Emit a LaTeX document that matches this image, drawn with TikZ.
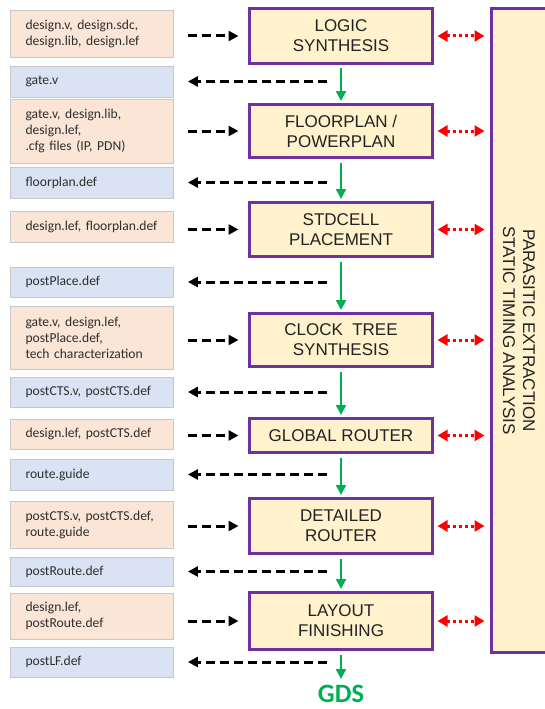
\documentclass[tikz,border=0pt]{standalone}
\usepackage{fontspec}
\setmainfont{Liberation Sans}
\newfontfamily\calfont{Carlito}
\usetikzlibrary{arrows.meta}
\definecolor{inorange}{HTML}{FBE5D6}
\definecolor{outblue}{HTML}{DAE3F3}
\definecolor{boxgray}{HTML}{C8C8C8}
\definecolor{stagefill}{HTML}{FFF2CC}
\definecolor{stagepurple}{HTML}{7030A0}
\definecolor{flowgreen}{HTML}{00B050}
\definecolor{loopred}{HTML}{FF0000}
\definecolor{lefttext}{HTML}{2E2E2E}
\definecolor{stagetext}{HTML}{222222}
\begin{document}
\begin{tikzpicture}[x=1pt,y=-1pt,
  filebox/.style={draw=boxgray, line width=0.8pt, minimum width=163pt, text width=133pt,
    inner xsep=15pt, inner ysep=0pt, align=left, text=lefttext,
    font=\calfont\fontsize{13.6}{16}\selectfont},
  inbox/.style={filebox, fill=inorange},
  outbox/.style={filebox, fill=outblue},
  stage/.style={draw=stagepurple, line width=3pt, fill=stagefill, minimum width=183pt,
    align=center, text=stagetext, inner sep=0pt, font=\fontsize{17}{20}\selectfont},
  feedin/.style={line width=3pt, dash pattern=on 9pt off 5pt, -{Triangle[length=10pt,width=10pt]},
    shorten <=14pt, shorten >=9.5pt},
  feedout/.style={line width=3pt, dash pattern=on 9pt off 5pt, -{Triangle[length=10pt,width=10pt]},
    shorten <=14pt, shorten >=14pt},
  flow/.style={flowgreen, line width=2pt, -{Triangle[length=10pt,width=10pt]},
    shorten <=3.5pt, shorten >=2pt},
  loop/.style={loopred, line width=3pt, dash pattern=on 3pt off 3pt,
    {Triangle[length=10pt,width=11pt]}-{Triangle[length=10pt,width=11pt]},
    shorten <=3.5pt, shorten >=5.5pt}
]
\useasboundingbox (0,0) rectangle (545,709);
\clip (0,0) rectangle (545,709);

% input / output file boxes
\node[inbox,  minimum height=47pt] (in1)  at (92,33.5)  {design.v, design.sdc,\\design.lib, design.lef};
\node[outbox, minimum height=31pt] (out1) at (92,81.5)  {gate.v};
\node[inbox,  minimum height=64pt] (in2)  at (92,131)   {gate.v, design.lib,\\design.lef,\\.cfg files (IP, PDN)};
\node[outbox, minimum height=31pt] (out2) at (92,182.5) {floorplan.def};
\node[inbox,  minimum height=31pt] (in3)  at (92,226.5) {design.lef, floorplan.def};
\node[outbox, minimum height=30pt] (out3) at (92,282)   {postPlace.def};
\node[inbox,  minimum height=63pt] (in4)  at (92,337.5) {gate.v, design.lef,\\postPlace.def,\\tech characterization};
\node[outbox, minimum height=30pt] (out4) at (92,392)   {postCTS.v, postCTS.def};
\node[inbox,  minimum height=30pt] (in5)  at (92,434)   {design.lef, postCTS.def};
\node[outbox, minimum height=31pt] (out5) at (92,474.5) {route.guide};
\node[inbox,  minimum height=47pt] (in6)  at (92,524.5) {postCTS.v, postCTS.def,\\route.guide};
\node[outbox, minimum height=29pt] (out6) at (92,571.5) {postRoute.def};
\node[inbox,  minimum height=46pt] (in7)  at (92,616)   {design.lef,\\postRoute.def};
\node[outbox, minimum height=30pt] (out7) at (92,662)   {postLF.def};

% flow stages
\node[stage, minimum height=55pt] (s1) at (341,36)    {LOGIC\\SYNTHESIS};
\node[stage, minimum height=53pt] (s2) at (341,131)   {FLOORPLAN /\\POWERPLAN};
\node[stage, minimum height=54pt] (s3) at (341,229.5) {STDCELL\\PLACEMENT};
\node[stage, minimum height=53pt] (s4) at (341,340)   {CLOCK~~TREE\\SYNTHESIS};
\node[stage, minimum height=34pt] (s5) at (341,435.5) {GLOBAL ROUTER};
\node[stage, minimum height=55pt] (s6) at (341,526)   {DETAILED\\ROUTER};
\node[stage, minimum height=57pt] (s7) at (341,621)   {LAYOUT\\FINISHING};
\node[font=\calfont\bfseries\fontsize{26.5}{28}\selectfont, text=flowgreen, inner sep=0pt] (gds) at (341,694) {GDS};

% side analysis box (runs off the right edge)
\node[stage, rotate=-90, minimum width=644pt, minimum height=80pt] (sta) at (531.5,330.5) {};
\node[rotate=-90, align=center, text=stagetext, font=\fontsize{17}{20}\selectfont] (statext) at (519,330.5)
  {PARASITIC EXTRACTION\\STATIC TIMING ANALYSIS};

% main flow
\draw[flow] (s1.south) -- (s2.north);
\draw[flow] (s2.south) -- (s3.north);
\draw[flow] (s3.south) -- (s4.north);
\draw[flow] (s4.south) -- (s5.north);
\draw[flow] (s5.south) -- (s6.north);
\draw[flow] (s6.south) -- (s7.north);
\draw[flow, shorten >=6pt] (s7.south) -- (gds.north);

% inputs
\draw[feedin] (s1.west -| in1.east) -- (s1.west);
\draw[feedin] (s2.west -| in2.east) -- (s2.west);
\draw[feedin] (s3.west -| in3.east) -- (s3.west);
\draw[feedin] (s4.west -| in4.east) -- (s4.west);
\draw[feedin] (s5.west -| in5.east) -- (s5.west);
\draw[feedin] (s6.west -| in6.east) -- (s6.west);
\draw[feedin] (s7.west -| in7.east) -- (s7.west);

% outputs
\draw[feedout] (out1.east -| s1.south) -- (out1.east);
\draw[feedout] (out2.east -| s1.south) -- (out2.east);
\draw[feedout] (out3.east -| s1.south) -- (out3.east);
\draw[feedout] (out4.east -| s1.south) -- (out4.east);
\draw[feedout] (out5.east -| s1.south) -- (out5.east);
\draw[feedout] (out6.east -| s1.south) -- (out6.east);
\draw[feedout] (out7.east -| s1.south) -- (out7.east);

% timing loops
\draw[loop] (s1.east) -- (s1.east -| sta.south);
\draw[loop] (s2.east) -- (s2.east -| sta.south);
\draw[loop] (s3.east) -- (s3.east -| sta.south);
\draw[loop] (s4.east) -- (s4.east -| sta.south);
\draw[loop] (s5.east) -- (s5.east -| sta.south);
\draw[loop] (s6.east) -- (s6.east -| sta.south);
\draw[loop] (s7.east) -- (s7.east -| sta.south);
\end{tikzpicture}
\end{document}
